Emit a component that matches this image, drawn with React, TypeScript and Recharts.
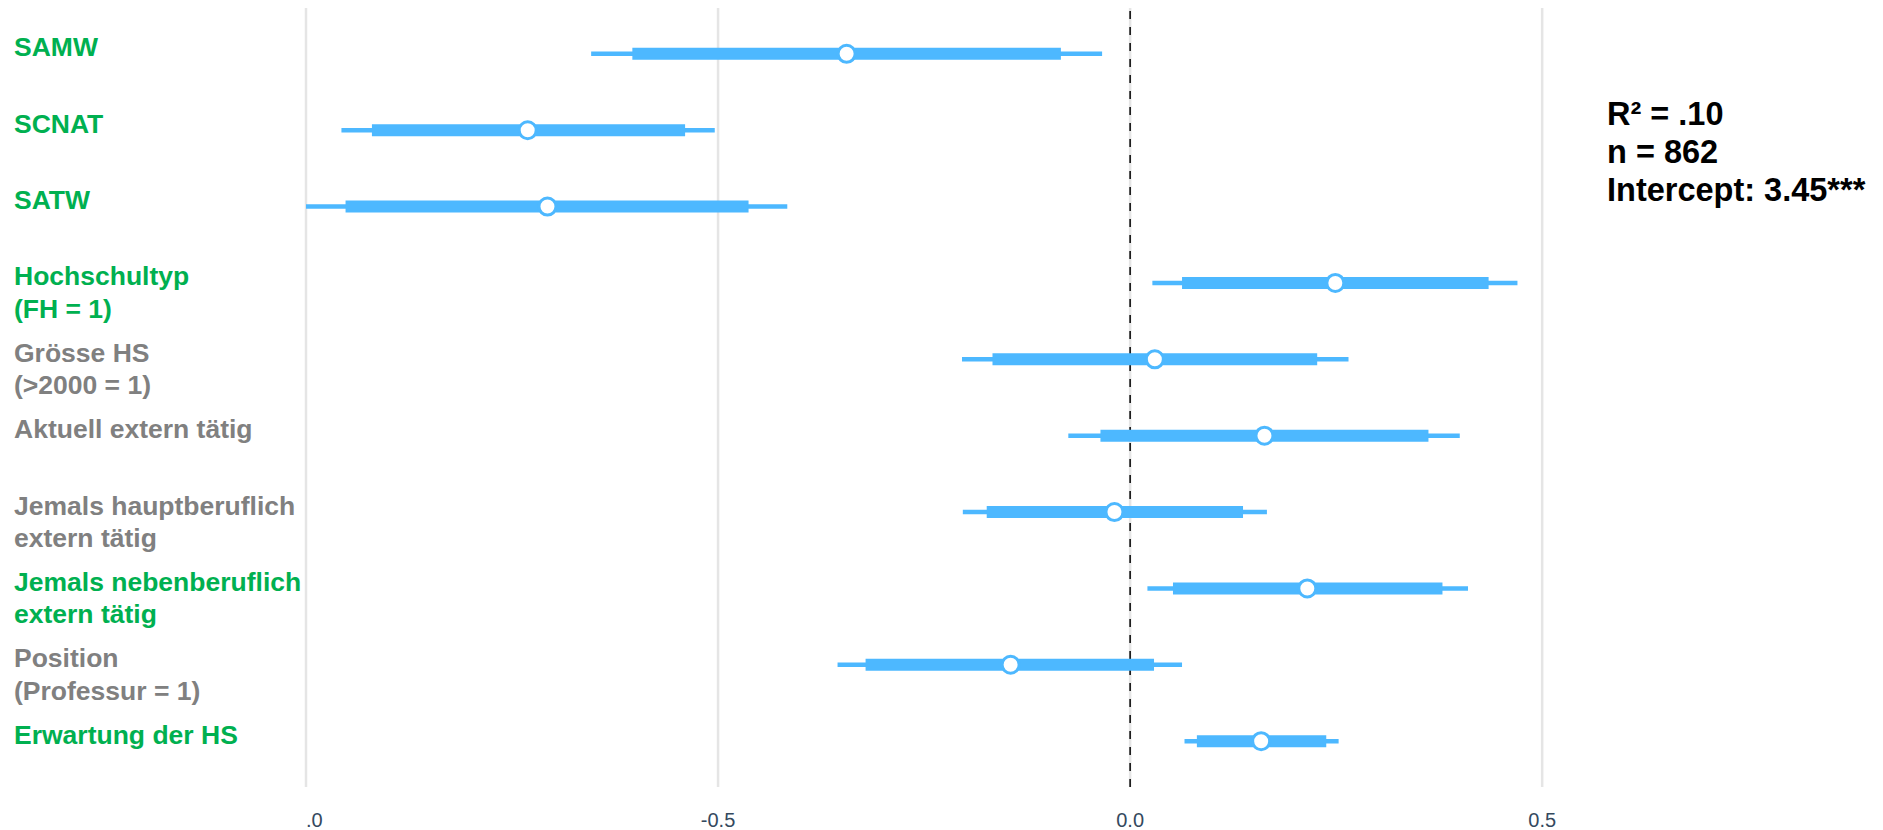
import {
  ComposedChart,
  Scatter,
  ErrorBar,
  XAxis,
  YAxis,
  ReferenceLine,
} from 'recharts'

const labels = [
  'SAMW',
  'SCNAT',
  'SATW',
  'Hochschultyp\n(FH = 1)',
  'Grösse HS\n(>2000 = 1)',
  'Aktuell extern tätig',
  'Jemals hauptberuflich\nextern tätig',
  'Jemals nebenberuflich\nextern tätig',
  'Position\n(Professur = 1)',
  'Erwartung der HS',
]
const significant = [true, true, true, true, false, false, false, true, false, true]
const estimates = [-0.344, -0.731, -0.707, 0.249, 0.03, 0.163, -0.019, 0.215, -0.145, 0.159]
const outerLow = [-0.654, -0.957, -1.0, 0.027, -0.204, -0.075, -0.203, 0.021, -0.355, 0.066]
const outerHigh = [-0.034, -0.504, -0.416, 0.47, 0.265, 0.4, 0.166, 0.41, 0.063, 0.253]
const innerLow = [-0.604, -0.92, -0.952, 0.063, -0.167, -0.036, -0.174, 0.052, -0.321, 0.081]
const innerHigh = [-0.084, -0.54, -0.463, 0.435, 0.227, 0.362, 0.137, 0.379, 0.029, 0.238]
const xTicks = [-1, -0.5, 0, 0.5]
const statLines = ['R² = .10', 'n = 862', 'Intercept: 3.45***']

const BLUE = '#4DB8FF'
const GREEN = '#00B050'
const GREY = '#808080'
const FONT = '"Liberation Sans", Arial, sans-serif'

const data = labels.map((label, i) => ({
  row: i + 1,
  label,
  est: estimates[i],
  outerErr: [estimates[i] - outerLow[i], outerHigh[i] - estimates[i]],
  innerErr: [estimates[i] - innerLow[i], innerHigh[i] - estimates[i]],
}))

// Beschriftung links, ein- oder zweizeilig
function RowLabel(props: any) {
  const { y, payload } = props
  const idx = Math.round(payload.value) - 1
  const lines = (labels[idx] || '').split('\n')
  const color = significant[idx] ? GREEN : GREY
  return (
    <text
      x={14}
      y={y + 2.5}
      fill={color}
      fontSize={26.5}
      fontWeight="bold"
      fontFamily={FONT}
      textAnchor="start"
    >
      {lines.map((line, k) => (
        <tspan key={k} x={14} dy={k === 0 ? 0 : 32.5}>
          {line}
        </tspan>
      ))}
    </text>
  )
}

function XTick(props: any) {
  const { x, y, payload } = props
  const v = payload.value
  const first = v === xTicks[0]
  const txt = first ? '.0' : v.toFixed(1)
  return (
    <text
      x={x}
      y={y}
      dy="0.71em"
      fill="#34495e"
      fontSize={20}
      fontFamily={FONT}
      textAnchor={first ? 'start' : 'middle'}
    >
      {txt}
    </text>
  )
}

function Dot(props: any) {
  const { cx, cy } = props
  return <circle cx={cx} cy={cy} r={8.5} fill="#fff" stroke={BLUE} strokeWidth={3} />
}

export default function App() {
  return (
    <div style={{ position: 'absolute', left: 0, top: 0, width: 1883, height: 830, background: '#fff' }}>
      <ComposedChart
        width={1883}
        height={830}
        data={data}
        margin={{ top: 8, right: 176, left: 0, bottom: 0 }}
      >
        <XAxis
          type="number"
          dataKey="est"
          domain={[-1, 0.7]}
          allowDataOverflow
          ticks={xTicks}
          axisLine={false}
          tickLine={false}
          tickSize={0}
          tickMargin={26}
          height={43}
          tick={<XTick />}
        />
        <YAxis
          type="number"
          dataKey="row"
          domain={[0.4, 10.6]}
          allowDataOverflow
          reversed
          ticks={[1, 2, 3, 4, 5, 6, 7, 8, 9, 10]}
          width={306}
          axisLine={false}
          tickLine={false}
          tick={<RowLabel />}
        />
        {xTicks.map((t) => (
          <ReferenceLine key={t} x={t} stroke="#e5e5e5" strokeWidth={2.5} />
        ))}
        <ReferenceLine x={0} stroke="#000" strokeWidth={1.5} strokeDasharray="8 8" />
        <Scatter dataKey="est" shape={<Dot />} isAnimationActive={false}>
          <ErrorBar dataKey="outerErr" direction="x" width={0} stroke={BLUE} strokeWidth={4.5} isAnimationActive={false} />
          <ErrorBar dataKey="innerErr" direction="x" width={0} stroke={BLUE} strokeWidth={12} isAnimationActive={false} />
        </Scatter>
      </ComposedChart>
      <div
        style={{
          position: 'absolute',
          left: 1607,
          top: 95,
          fontFamily: FONT,
          fontWeight: 'bold',
          fontSize: 32.5,
          lineHeight: '38px',
          color: '#000',
          whiteSpace: 'nowrap',
        }}
      >
        {statLines.map((s) => (
          <div key={s}>{s}</div>
        ))}
      </div>
    </div>
  )
}
